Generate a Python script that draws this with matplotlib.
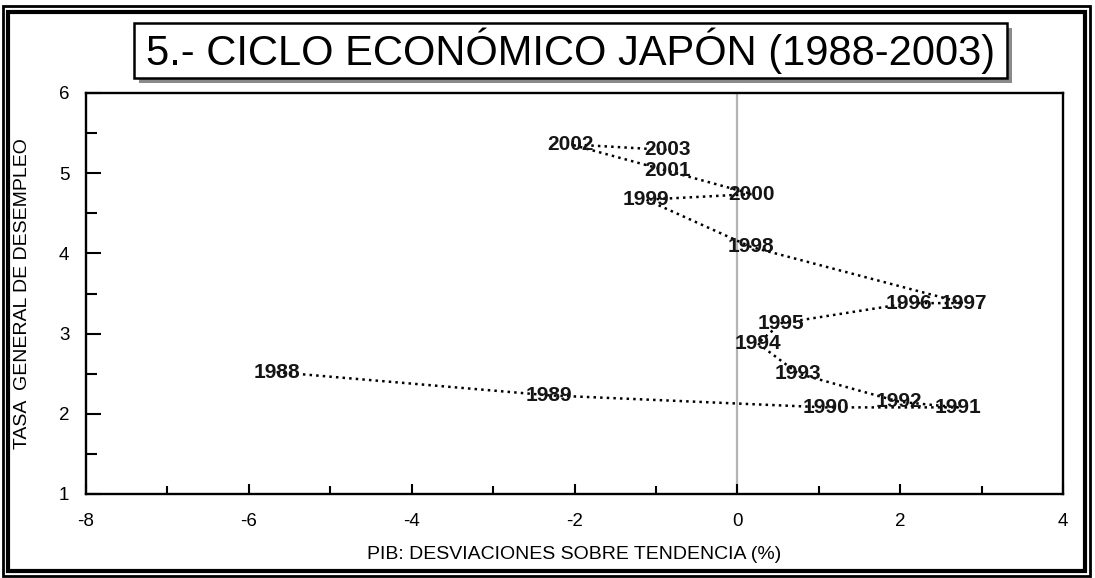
import matplotlib
matplotlib.use('Agg')
import matplotlib.pyplot as plt
import matplotlib.patches as patches
from matplotlib.ticker import MultipleLocator

plt.rcParams['font.family'] = ['Liberation Sans', 'DejaVu Sans']
plt.rcParams['axes.unicode_minus'] = False

# Japan business cycle 1988-2003
years = ['1988', '1989', '1990', '1991', '1992', '1993', '1994', '1995',
         '1996', '1997', '1998', '1999', '2000', '2001', '2002', '2003']
gdp_dev = [-5.66, -2.31, 1.09, 2.71, 1.99, 0.75, 0.25, 0.54,
           2.11, 2.78, 0.17, -1.12, 0.18, -0.86, -2.05, -0.86]
unemployment = [2.52, 2.23, 2.08, 2.08, 2.15, 2.50, 2.88, 3.13,
                3.38, 3.38, 4.08, 4.67, 4.74, 5.03, 5.36, 5.29]

W, H = 1095, 578
fig = plt.figure(figsize=(W / 100, H / 100), dpi=100)
fig.patch.set_facecolor('white')


def px_rect(x0, y0, x1, y1, **kw):
    # rectangle given in pixel coords measured from the top-left corner
    return patches.Rectangle((x0 / W, 1 - y1 / H), (x1 - x0) / W, (y1 - y0) / H,
                             transform=fig.transFigure, **kw)


# double outer border
fig.add_artist(px_rect(2.5, 6, 1090, 575.5, facecolor='none', edgecolor='black', linewidth=2))
fig.add_artist(px_rect(7.5, 11.5, 1085, 571, facecolor='none', edgecolor='black', linewidth=3))

# title box with shadow
fig.add_artist(px_rect(139, 28, 1012, 83, facecolor='#8a8a8a', edgecolor='none'))
fig.add_artist(px_rect(134, 23, 1007, 78, facecolor='white', edgecolor='black', linewidth=1.8))
fig.text((134 + 1007) / 2 / W, 1 - 51 / H, '5.- CICLO ECONÓMICO JAPÓN (1988-2003)',
         ha='center', va='center', fontsize=30, color='black', zorder=5)

# plot area
ax = fig.add_axes([86 / W, 1 - 494 / H, (1063 - 86) / W, (494 - 93) / H])
ax.set_xlim(-8, 4)
ax.set_ylim(1, 6)

ax.axvline(0, color='#b4b4b4', linewidth=1.6, zorder=1)

ax.plot(gdp_dev, unemployment, color='black', linestyle=':', linewidth=1.8, zorder=2)
for yr, x, y in zip(years, gdp_dev, unemployment):
    ax.text(x, y, yr, ha='center', va='center', fontsize=15, fontweight='bold',
            color='#151515', zorder=3)

for s in ax.spines.values():
    s.set_linewidth(1.7)

ax.xaxis.set_major_locator(MultipleLocator(2))
ax.xaxis.set_minor_locator(MultipleLocator(1))
ax.yaxis.set_major_locator(MultipleLocator(1))
ax.yaxis.set_minor_locator(MultipleLocator(0.5))
ax.tick_params(axis='x', which='major', direction='in', length=7, width=1.5,
               labelsize=13.5, pad=14, top=False)
ax.tick_params(axis='x', which='minor', direction='in', length=6, width=1.5, top=False)
ax.tick_params(axis='y', which='major', direction='in', length=11, width=1.5,
               labelsize=13.5, pad=12, right=False)
ax.tick_params(axis='y', which='minor', direction='in', length=8, width=1.5, right=False)

ax.set_xlabel('PIB: DESVIACIONES SOBRE TENDENCIA (%)', fontsize=14)
ax.set_ylabel('TASA  GENERAL DE DESEMPLEO', fontsize=14)
ax.xaxis.set_label_coords(0.5, -0.13)
ax.yaxis.set_label_coords(-0.056, 0.5)

fig.savefig('out.png', dpi=100, facecolor='white')
